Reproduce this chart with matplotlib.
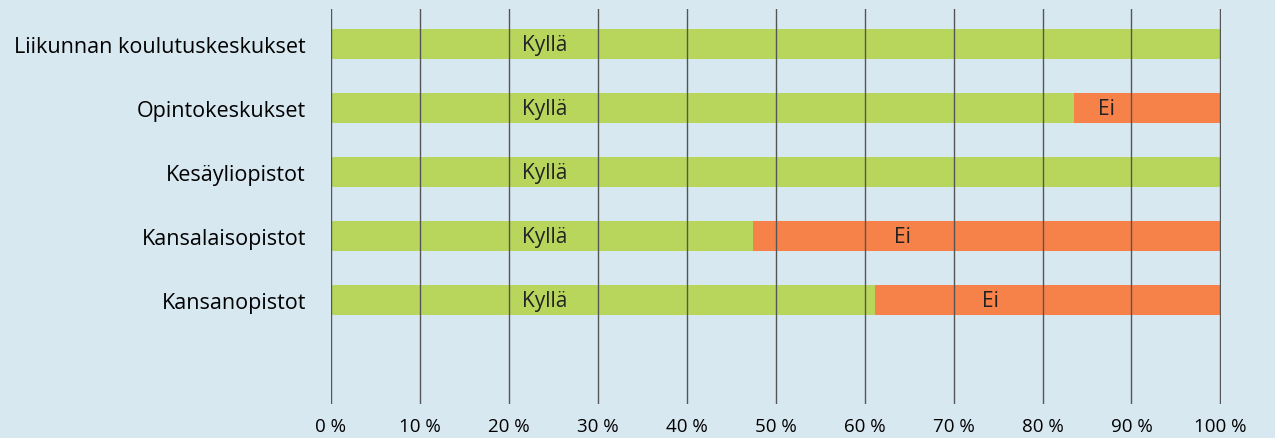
import matplotlib
matplotlib.use('Agg')
import matplotlib.pyplot as plt
import numpy as np

# ======== Data ========
categories = ['Liikunnan koulutuskeskukset', 'Opintokeskukset', 'Kesäyliopistot',
              'Kansalaisopistot', 'Kansanopistot']
kylla = [100, 83.5, 100, 47.5, 61.2]
ei = [0, 16.5, 0, 52.5, 38.8]
xticks = [0, 10, 20, 30, 40, 50, 60, 70, 80, 90, 100]

# label positions as placed in the original (percent)
kylla_label_x = [24, 24, 24, 24, 24]
ei_label_x = [None, 87.2, None, 64.3, 74.1]

# ======== Style ========
bg = '#d8e8f1'
green = '#b8d65c'
orange = '#f6824a'
plt.rcParams.update({'font.family': 'Open Sans', 'text.color': '#222222'})

fig = plt.figure(figsize=(12.75, 4.39), dpi=100, facecolor=bg)
ax = fig.add_axes([0.2596, 0.0774, 0.6983, 0.8996], facecolor=bg)

y = np.arange(len(categories))
h = 0.47
ax.barh(y, kylla, height=h, color=green, zorder=1)
ax.barh(y, ei, left=kylla, height=h, color=orange, zorder=1)

for i in range(len(categories)):
    ax.text(kylla_label_x[i], y[i], 'Kyllä', ha='center', va='center', fontsize=15, zorder=3)
    if ei_label_x[i] is not None:
        ax.text(ei_label_x[i], y[i], 'Ei', ha='center', va='center', fontsize=15, zorder=3)

for x in xticks:
    ax.axvline(x, color='#555555', lw=1.0, zorder=2)

ax.set_xlim(0, 100.1)
ax.set_ylim(5.62, -0.55)
ax.set_yticks(y)
ax.set_yticklabels(categories, fontsize=15.5)
ax.set_xticks(xticks)
ax.set_xticklabels([f'{v} %' for v in xticks], fontsize=13.5)
ax.tick_params(length=0)
ax.tick_params(axis='y', pad=18)
ax.tick_params(axis='x', pad=9)
for s in ax.spines.values():
    s.set_visible(False)

fig.savefig('out.png', dpi=100, facecolor=bg)
